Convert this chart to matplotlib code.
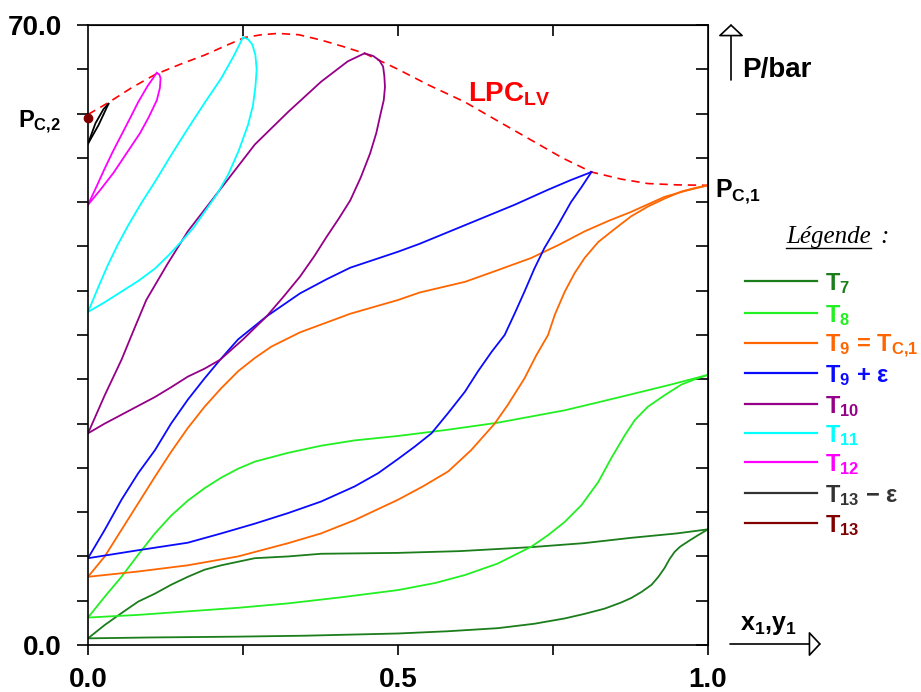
import matplotlib
matplotlib.use("Agg")
import matplotlib.pyplot as plt
from matplotlib.lines import Line2D

plt.rcParams['font.family'] = ['Liberation Sans', 'DejaVu Sans']
plt.rcParams['font.weight'] = 'bold'
plt.rcParams['mathtext.default'] = 'regular'

W, H = 921, 692

# P (bar) against x1 / y1, two branches per isotherm
t7_a_x = [0, .027, .054, .081, .108, .134, .161, .188, .215, .242, .269, .323, .376, .5, .6, .715, .8, .876, .95, 1.0]
t7_a_p = [0.75, 2.26, 3.6, 4.9, 5.8, 6.8, 7.7, 8.5, 9.0, 9.4, 9.8, 10.0, 10.3, 10.4, 10.6, 11.05, 11.5, 12.1, 12.6, 13.06]
t7_b_x = [0, .1, .237, .35, .5, .58, .661, .72, .769, .8, .833, .86, .876, .893, .909, .92, .93, .938, .946, .955, .968, .984, 1.0]
t7_b_p = [0.75, 0.85, 0.94, 1.05, 1.3, 1.55, 1.9, 2.4, 3.0, 3.5, 4.1, 4.8, 5.3, 6.0, 6.8, 7.7, 8.7, 9.7, 10.5, 11.1, 11.7, 12.4, 13.06]

t8_a_x = [0, .027, .054, .081, .108, .134, .161, .188, .215, .242, .269, .323, .376, .43, .5, .58, .661, .715, .769, .823, .876, .94, 1.0]
t8_a_p = [3.1, 5.45, 7.7, 10.2, 12.6, 14.6, 16.3, 17.7, 18.9, 19.9, 20.7, 21.7, 22.5, 23.1, 23.6, 24.3, 25.1, 25.8, 26.5, 27.4, 28.3, 29.4, 30.5]
t8_b_x = [0, .081, .161, .242, .323, .41, .5, .56, .608, .661, .715, .742, .769, .796, .823, .844, .866, .882, .903, .93, .957, .979, 1.0]
t8_b_p = [3.1, 3.4, 3.8, 4.2, 4.7, 5.4, 6.2, 7.0, 7.9, 9.2, 11.1, 12.4, 13.9, 15.8, 18.4, 21.1, 23.7, 25.4, 26.9, 28.2, 29.4, 30.0, 30.5]

t9_a_x = [0, .027, .054, .081, .108, .134, .161, .188, .215, .242, .269, .296, .342, .423, .5, .535, .608, .66, .715, .76, .801, .84, .876, .93, .965, 1.0]
t9_a_p = [7.7, 10.0, 13.0, 16.0, 19.0, 21.8, 24.5, 26.9, 29.0, 30.9, 32.4, 33.7, 35.3, 37.4, 38.95, 39.8, 41.0, 42.3, 43.7, 45.2, 46.7, 47.9, 48.9, 50.6, 51.3, 51.9]
t9_b_x = [0, .081, .161, .242, .323, .376, .43, .5, .54, .581, .618, .656, .677, .704, .723, .742, .753, .769, .785, .801, .823, .85, .876, .903, .93, .957, .979, 1.0]
t9_b_p = [7.7, 8.3, 9.0, 10.0, 11.5, 12.6, 14.1, 16.4, 17.9, 19.6, 22.0, 25.0, 27.1, 30.1, 32.7, 35.0, 37.3, 39.9, 42.0, 43.7, 45.5, 47.0, 48.4, 49.5, 50.4, 51.2, 51.6, 51.9]

t9e_a_x = [0, .027, .054, .081, .108, .134, .161, .188, .213, .242, .288, .342, .385, .423, .5, .535, .608, .688, .742, .779, .812]
t9e_a_p = [9.8, 13.0, 16.4, 19.4, 22.0, 25.0, 27.7, 30.1, 32.2, 34.5, 37.1, 39.7, 41.3, 42.6, 44.4, 45.3, 47.4, 49.7, 51.4, 52.5, 53.4]
t9e_b_x = [0, .081, .161, .215, .269, .323, .376, .43, .468, .5, .527, .554, .581, .608, .629, .651, .672, .688, .704, .72, .736, .758, .779, .796, .812]
t9e_b_p = [9.8, 10.7, 11.55, 12.6, 13.7, 14.9, 16.2, 17.9, 19.4, 21.0, 22.4, 23.9, 26.2, 28.6, 30.9, 33.1, 35.0, 37.4, 39.9, 42.5, 44.8, 47.4, 50.0, 51.7, 53.4]

t10_a_x = [0, .027, .054, .074, .094, .128, .161, .215, .269, .323, .376, .419, .446]
t10_a_p = [23.9, 28.2, 32.2, 35.6, 38.95, 43.0, 46.7, 51.6, 56.5, 60.2, 63.6, 65.9, 66.8]
t10_b_x = [0, .027, .054, .081, .108, .134, .161, .188, .213, .25, .288, .315, .342, .365, .385, .405, .423, .44, .455,
           .465, .472, .477, .479, .478, .476, .47, .46, .446]
t10_b_p = [23.9, 25.0, 26.0, 27.0, 28.0, 29.1, 30.3, 31.2, 32.2, 34.5, 37.1, 39.3, 41.6, 43.9, 46.1, 48.2, 50.2, 52.8, 55.5,
           57.8, 60.0, 61.5, 63.0, 64.2, 65.3, 66.0, 66.5, 66.8]

t11_a_x = [0, .016, .032, .048, .065, .086, .108, .134, .161, .188, .215, .235, .25]
t11_a_p = [37.6, 40.3, 42.9, 45.2, 47.4, 49.9, 52.3, 55.3, 58.3, 61.2, 64.0, 66.5, 68.6]
t11_b_x = [0, .027, .054, .081, .108, .13, .15, .17, .188, .208, .226, .243, .258, .266, .27, .272, .27, .265, .258, .25]
t11_b_p = [37.6, 38.7, 39.9, 41.1, 42.5, 44.0, 45.5, 47.1, 48.9, 50.9, 53.1, 55.8, 58.7, 60.9, 63.0, 65.0, 66.6, 67.8, 68.4, 68.6]

t12_a_x = [0, .014, .027, .04, .054, .068, .081, .096, .111]
t12_a_p = [49.7, 51.8, 53.8, 55.7, 57.6, 59.5, 61.3, 63.1, 64.6]
t12_b_x = [0, .02, .041, .062, .084, .098, .111, .116, .117, .115, .111]
t12_b_p = [49.7, 51.4, 53.3, 55.5, 57.8, 59.6, 61.5, 62.9, 64.0, 64.4, 64.6]

t13e_a_x = [0, .017, .033]
t13e_a_p = [56.6, 58.7, 61.1]
t13e_b_x = [0, .012, .025, .033]
t13e_b_p = [56.6, 58.9, 60.5, 61.1]

t13_x = [0]
t13_p = [59.5]

lpc_x = [0, .032, .07, .108, .15, .188, .22, .253, .28, .306, .34, .376, .41, .446, .5, .55, .608, .66, .715, .765,
         .812, .86, .903, .95, 1.0]
lpc_p = [59.9, 61.2, 62.9, 64.4, 65.6, 66.6, 67.6, 68.6, 68.9, 69.05, 68.9, 68.3, 67.6, 66.8, 65.0, 63.2, 61.3, 59.2, 57.0, 55.0,
         53.4, 52.6, 52.1, 51.95, 51.9]

labels = ['T$_7$', 'T$_8$', 'T$_9$ = T$_{C{,}1}$', 'T$_9$ + ε', 'T$_{10}$',
          'T$_{11}$', 'T$_{12}$', 'T$_{13}$ − ε', 'T$_{13}$']
colors = ['#1b7d1b', '#22f022', '#ff6600', '#0a0aff', '#950088',
          '#00ffff', '#ff00ff', '#333333', '#800000']

fig = plt.figure(figsize=(W / 100, H / 100), dpi=100)
ax = fig.add_axes([88 / W, 1 - 645 / H, 620 / W, 620 / H])

def fpos(px, py):
    return px / W, 1 - py / H

ax.plot(lpc_x, lpc_p, color='#ff0000', lw=1.2, ls=(0, (5, 3.5)))

branches = [
    (t7_a_x, t7_a_p, t7_b_x, t7_b_p, colors[0]),
    (t8_a_x, t8_a_p, t8_b_x, t8_b_p, colors[1]),
    (t9_a_x, t9_a_p, t9_b_x, t9_b_p, colors[2]),
    (t9e_a_x, t9e_a_p, t9e_b_x, t9e_b_p, colors[3]),
    (t10_a_x, t10_a_p, t10_b_x, t10_b_p, colors[4]),
    (t11_a_x, t11_a_p, t11_b_x, t11_b_p, colors[5]),
    (t12_a_x, t12_a_p, t12_b_x, t12_b_p, colors[6]),
    (t13e_a_x, t13e_a_p, t13e_b_x, t13e_b_p, 'black'),
]
for xa, pa, xb, pb, c in branches:
    ax.plot(xa, pa, color=c, lw=1.3, solid_joinstyle='round')
    ax.plot(xb, pb, color=c, lw=1.3, solid_joinstyle='round')

ax.plot(t13_x, t13_p, 'o', color=colors[8], ms=6, clip_on=False, zorder=5)

ax.set_xlim(0, 1)
ax.set_ylim(0, 70)
ax.set_xticks([0, 0.25, 0.5, 0.75, 1])
ax.set_xticklabels(['0.0', '', '0.5', '', '1.0'])
yt = list(range(0, 71, 5))
ax.set_yticks(yt)
ax.set_yticklabels(['0.0'] + [''] * 13 + ['70.0'])
ax.tick_params(axis='x', direction='out', length=7.2, width=1.2, pad=8.5, labelsize=20)
ax.tick_params(axis='y', direction='out', length=8, width=1.2, pad=11, labelsize=20)
for s in ax.spines.values():
    s.set_linewidth(1.2)

top = ax.secondary_xaxis('top')
top.set_xticks([0.25, 0.5, 0.75])
top.tick_params(direction='in', length=7.7, width=1.2, labeltop=False)
right = ax.secondary_yaxis('right')
right.set_yticks(yt)
right.tick_params(direction='in', length=8.6, width=1.2, labelright=False)

# annotations
fig.text(*fpos(742, 77), 'P/bar', fontsize=20, fontweight='bold')
fig.text(*fpos(18, 128), 'P$_{C{,}2}$', fontsize=17, fontweight='bold')
fig.text(*fpos(715, 197), 'P$_{C{,}1}$', fontsize=18, fontweight='bold')
fig.text(*fpos(468, 102), 'LPC$_{LV}$', fontsize=20, fontweight='bold', color='#ff0000')
fig.text(*fpos(740, 630), 'x$_1$,y$_1$', fontsize=18, fontweight='bold')

arrow = dict(arrowstyle='-|>,head_length=0.75,head_width=0.8', fc='white',
             ec='black', lw=1.2, shrinkA=0, shrinkB=0, mutation_scale=10)
ax.annotate('', xy=fpos(731, 24), xytext=fpos(731, 80), xycoords='figure fraction',
            textcoords='figure fraction', arrowprops=arrow, annotation_clip=False)
ax.annotate('', xy=fpos(821, 644), xytext=fpos(730, 644), xycoords='figure fraction',
            textcoords='figure fraction', arrowprops=arrow, annotation_clip=False)

# legend drawn by hand
fig.text(*fpos(786, 243), 'Légende', fontsize=18, family='Liberation Serif',
         style='italic', fontweight='normal')
fig.text(*fpos(880, 243), ':', fontsize=18, family='Liberation Serif',
         style='italic', fontweight='normal')
fig.add_artist(Line2D([786 / W, 871 / W], [1 - 248 / H] * 2, color='black', lw=1))

rows = [281, 313, 343, 373, 404, 433, 462, 493, 523]
for y, lab, c in zip(rows, labels, colors):
    fig.add_artist(Line2D([745 / W, 817 / W], [1 - y / H] * 2, color=c, lw=1.6))
    fig.text(*fpos(825, y + 9), lab, fontsize=17, fontweight='bold', color=c)

fig.savefig('out.png', dpi=100)
